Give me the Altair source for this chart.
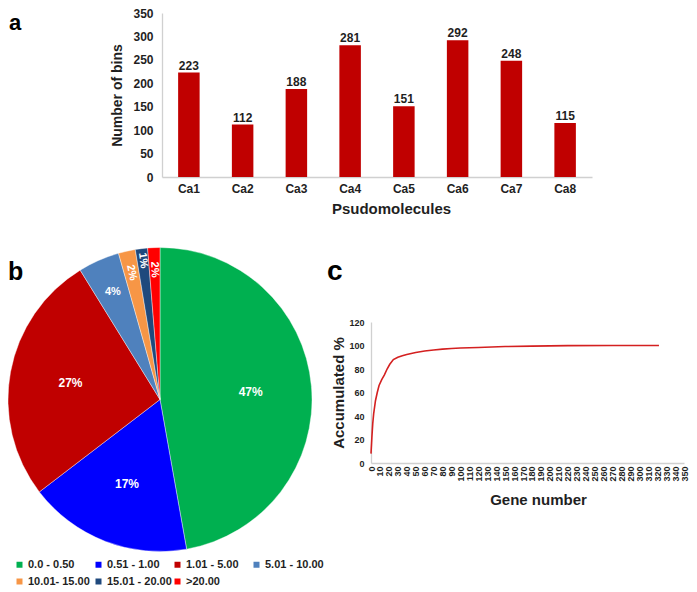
import altair as alt
import pandas as pd

# ---------------- data ----------------
# panel a
chromosomes = ["Ca1", "Ca2", "Ca3", "Ca4", "Ca5", "Ca6", "Ca7", "Ca8"]
bins = [223, 112, 188, 281, 151, 292, 248, 115]

# panel b
classes = ["0.0 - 0.50", "0.51 - 1.00", "1.01 - 5.00", "5.01 - 10.00",
           "10.01- 15.00", "15.01 - 20.00", ">20.00"]
shares = [47.2, 17.4, 26.6, 4.4, 1.8, 1.3, 1.3]
share_labels = ["47%", "17%", "27%", "4%", "2%", "1%", "2%"]
class_colors = ["#00b050", "#0000ff", "#c00000", "#4f81bd", "#f79646", "#1f497d", "#ff0000"]

# panel c
gene_number = [0, 1, 2, 3, 5, 7, 9, 12, 15, 18, 21, 25, 30, 35, 40, 50, 60, 70,
               80, 90, 100, 120, 150, 180, 220, 270, 322]
accumulated = [8, 22, 34, 42, 53, 60, 66, 71, 75, 80, 84, 88, 90, 91.2, 92.3, 94,
               95.3, 96.2, 96.9, 97.5, 97.9, 98.3, 99.1, 99.5, 99.9, 100, 100]

W, H = 681, 578
FONT = "Liberation Sans"
INK = "#1f1f1f"

# ---------------- panel a : bars ----------------
bar_df = pd.DataFrame({"chrom": chromosomes, "bins": bins})
xa = alt.X("chrom:N", sort=chromosomes,
           scale=alt.Scale(range=[154, 584], paddingInner=0.6, paddingOuter=0.3),
           axis=alt.Axis(orient="bottom", offset=169 - H, title="Psudomolecules",
                         labelAngle=0, labelPadding=6, labelFontSize=12,
                         titleFontSize=15, titleX=383, titleY=36,
                         titleBaseline="alphabetic"))
ya = alt.Y("bins:Q",
           scale=alt.Scale(domain=[0, 350], range=[169, 5], nice=False),
           axis=alt.Axis(orient="left", offset=-154, values=list(range(0, 351, 50)),
                         title="Number of bins", labelFontSize=12, labelPadding=9,
                         titleFontSize=14, titleX=-45, titleBaseline="middle"))
bars = alt.Chart(bar_df).mark_bar(color="#c00000").encode(x=xa, y=ya)
bar_text = alt.Chart(bar_df).mark_text(
    dy=-3, baseline="alphabetic", fontSize=12, fontWeight="bold", color=INK
).encode(x=xa, y=ya, text="bins:Q")
panel_a = alt.layer(bars, bar_text)

# ---------------- panel b : pie ----------------
pie_df = pd.DataFrame({"idx": list(range(len(classes))), "cls": classes,
                       "share": shares, "lab": share_labels})
CX, CY, R = 152, 391.5, 152
theta_scale = alt.Scale(domain=[0, 100], range=[0, 6.283185307179586])
base_pie = alt.Chart(pie_df).transform_window(
    cum="sum(share)", sort=[alt.SortField("idx")], frame=[None, 0]
).transform_calculate(
    start="datum.cum - datum.share",
    mid="datum.cum - datum.share / 2",
    rot="datum.mid * 3.6 - 270",
)
arcs = base_pie.mark_arc(outerRadius=R, stroke="white", strokeWidth=0.4).encode(
    theta=alt.Theta("start:Q", scale=theta_scale, stack=None),
    theta2="cum:Q",
    color=alt.Color("cls:N", sort=classes,
                    scale=alt.Scale(domain=classes, range=class_colors),
                    legend=alt.Legend(orient="none", legendX=6, legendY=551, columns=4,
                                      direction="horizontal", title=None,
                                      symbolType="square", symbolSize=36,
                                      symbolStrokeWidth=0, labelFontSize=11,
                                      labelFontWeight="bold", labelFont=FONT,
                                      labelColor=INK, columnPadding=0, rowPadding=5,
                                      gridAlign="all", labelOffset=3, padding=0,
                                      labelLimit=0)),
    x=alt.value(CX), y=alt.value(CY),
)

def pie_text(cond, radius, size, rotate):
    enc = dict(theta=alt.Theta("mid:Q", scale=theta_scale, stack=None),
               text="lab:N", x=alt.value(CX), y=alt.value(CY))
    if rotate:
        enc["angle"] = alt.Angle("rot:Q", scale=None)
    return base_pie.transform_filter(cond).mark_text(
        radius=radius, fontSize=size, fontWeight="bold", color="white",
        align="center", baseline="middle"
    ).encode(**enc)

pie_big = pie_text("datum.idx <= 2", 91, 12, False)
pie_mid = pie_text("datum.idx == 3", 117, 11, False)
pie_small = pie_text("datum.idx == 4 || datum.idx == 6", 130, 11, True)
pie_navy = pie_text("datum.idx == 5", 140, 11, True)

# ---------------- panel c : line ----------------
line_df = pd.DataFrame({"gene": gene_number, "acc": accumulated})
line = alt.Chart(line_df).mark_line(color="#d42020", strokeWidth=1.6).encode(
    x=alt.X("gene:Q",
            scale=alt.Scale(domain=[0, 350], range=[363, 676], nice=False, zero=False),
            axis=alt.Axis(orient="bottom", offset=455 - H, values=list(range(0, 351, 10)),
                          labelAngle=-90, labelAlign="right", labelBaseline="middle",
                          labelFontSize=9, labelPadding=3, labelOverlap=False,
                          labelFlush=False, title="Gene number", titleFontSize=15,
                          titleX=530, titleY=41, titleBaseline="alphabetic")),
    y=alt.Y("acc:Q",
            scale=alt.Scale(domain=[0, 120], range=[455, 314], nice=False),
            axis=alt.Axis(orient="left", offset=-363, values=list(range(0, 121, 20)),
                          labelFontSize=9, labelPadding=7, title="Accumulated %",
                          titleFontSize=15, titleX=-33, titleBaseline="middle")),
)

# ---------------- panel letters ----------------
def letter(t, x, y, size):
    return alt.Chart(pd.DataFrame({"t": [t]})).mark_text(
        align="left", baseline="alphabetic", fontSize=size, fontWeight="bold",
        color="black"
    ).encode(text="t:N", x=alt.value(x), y=alt.value(y))

letters = [letter("a", 1, 22, 22), letter("b", 0, 272, 25), letter("c", 319, 272, 28)]

chart = alt.layer(
    panel_a, line, arcs, pie_big, pie_mid, pie_small, pie_navy, *letters
).resolve_scale(
    x="independent", y="independent"
).resolve_axis(
    x="independent", y="independent"
).properties(
    width=W, height=H, padding=0, autosize=alt.AutoSizeParams(type="none")
).configure_view(
    stroke=None
).configure_axis(
    grid=False, ticks=False, domainColor="#d0d0d0", domainWidth=1.3,
    labelFont=FONT, titleFont=FONT, labelFontWeight="bold", titleFontWeight="bold",
    labelColor=INK, titleColor=INK
).configure_text(font=FONT)

chart.save("out.html", embed_options={"renderer": "svg", "actions": False})
